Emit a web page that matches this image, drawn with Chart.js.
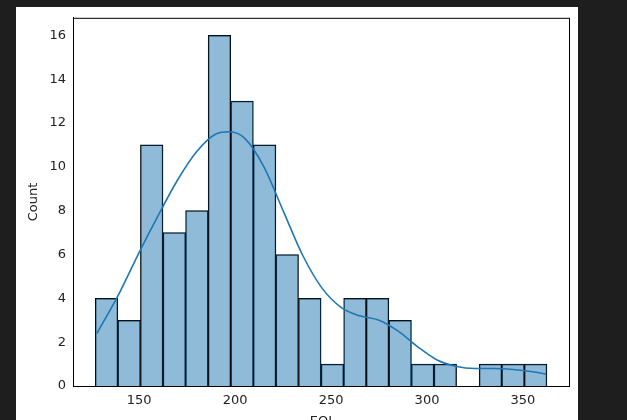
<!DOCTYPE html>
<html>
<head>
<meta charset="utf-8">
<script src="https://cdn.jsdelivr.net/npm/chart.js@4"></script>
<style>
  html, body { margin: 0; padding: 0; background: #1e1e1e; width: 627px; height: 420px; overflow: hidden; }
  #wrap { position: absolute; left: 16px; top: 7px; width: 562px; height: 413px; background: #fff; overflow: hidden; }
  #wrap canvas { display: block; }
</style>
</head>
<body>
<div id="wrap"><canvas id="c" width="562" height="424"></canvas></div>
<script>
// histogram bins (left edge 127.1, width ~11.77)
const binStart = 127.1;
const binWidth = 11.77;
const counts = [4, 3, 11, 7, 8, 16, 13, 11, 6, 4, 1, 4, 4, 3, 1, 1, 0, 1, 1, 1];
// kde curve
const kdeX = [128, 140, 150, 160, 170, 180, 190, 197, 205, 215, 225, 235, 245, 255, 265, 275, 285, 295, 305, 315, 325, 335, 345, 355, 362];
const kdeY = [2.4, 4.3, 6.1, 7.8, 9.4, 10.7, 11.5, 11.6, 11.3, 10.0, 8.0, 6.0, 4.5, 3.6, 3.2, 3.0, 2.5, 1.8, 1.2, 0.9, 0.8, 0.8, 0.75, 0.65, 0.55];
const yTicks = [0, 2, 4, 6, 8, 10, 12, 14, 16];
const xTicks = [150, 200, 250, 300, 350];

const bars = counts.map((v, i) => ({ x: binStart + binWidth * (i + 0.5), y: v }));
const kde = kdeX.map((x, i) => ({ x, y: kdeY[i] }));

const frame = {
  id: 'frame',
  afterDraw(chart) {
    const a = chart.chartArea, c = chart.ctx;
    c.save();
    c.strokeStyle = '#000';
    c.lineWidth = 1;
    c.strokeRect(a.left + 0.5, a.top + 0.5, a.right - a.left, a.bottom - a.top);
    c.restore();
  }
};

new Chart(document.getElementById('c'), {
  data: {
    datasets: [
      {
        type: 'line', data: kde, borderColor: '#1f77b4', borderWidth: 1.6,
        pointRadius: 0, tension: 0.4, cubicInterpolationMode: 'monotone', order: 0
      },
      {
        type: 'bar', data: bars, backgroundColor: 'rgba(31,119,180,0.5)',
        borderColor: '#000', borderWidth: 0.8, barPercentage: 1, categoryPercentage: 1,
        grouped: false, order: 1
      }
    ]
  },
  options: {
    responsive: false,
    animation: false,
    layout: { padding: { top: 9, right: 9, left: 0, bottom: 0 } },
    plugins: { legend: { display: false }, tooltip: { enabled: false } },
    scales: {
      x: {
        type: 'linear', min: 115.5, max: 374, offset: false,
        afterBuildTicks: s => { s.ticks = xTicks.map(v => ({ value: v })); },
        afterFit: s => { s.height = 45; },
        grid: { display: false, drawTicks: true, tickLength: 4, tickColor: '#000', offset: false },
        border: { color: '#000' },
        ticks: { color: '#222', font: { family: 'DejaVu Sans', size: 13 }, padding: 3, maxRotation: 0 },
        title: { display: true, text: 'EQI', color: '#222', font: { family: 'DejaVu Sans', size: 13 }, padding: { top: 4, bottom: 2 } }
      },
      y: {
        min: 0, max: 16.8,
        afterBuildTicks: s => { s.ticks = yTicks.map(v => ({ value: v })); },
        afterFit: s => { s.width = 57; },
        grid: { display: false, drawTicks: true, tickLength: 4, tickColor: '#000' },
        border: { color: '#000' },
        ticks: { color: '#222', font: { family: 'DejaVu Sans', size: 13 }, padding: 3 },
        title: { display: true, text: 'Count', color: '#222', font: { family: 'DejaVu Sans', size: 13 }, padding: { top: 10, bottom: 0 } }
      }
    }
  },
  plugins: [frame]
});
</script>
</body>
</html>
